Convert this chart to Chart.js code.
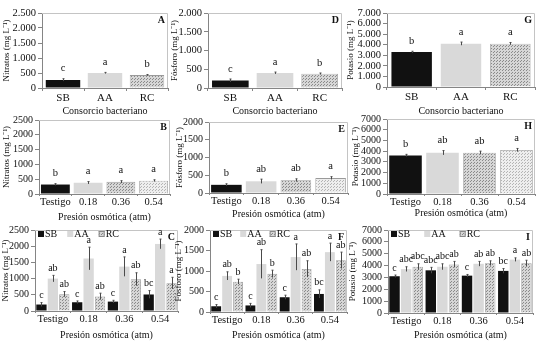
<!DOCTYPE html>
<html>
<head>
<meta charset="utf-8">
<script src="https://cdn.jsdelivr.net/npm/chart.js@4"></script>
<style>
  body { margin: 0; background: #fff; }
  #lienzo { position: relative; width: 550px; height: 343px; overflow: hidden; }
  #lienzo canvas { position: absolute; }
</style>
</head>
<body>
<div id="lienzo"></div>
<script>
// * categorias
const consorcios = ["SB", "AA", "RC"];
const presiones = ["Testigo", "0.18", "0.36", "0.54"];

// * A, D, G: consorcio bacteriano
const nitratosCons = [270, 500, 430];
const nitratosConsErr = [40, 20, 20];
const nitratosConsLetras = ["c", "a", "b"];
const fosforoCons = [200, 400, 380];
const fosforoConsErr = [40, 25, 20];
const fosforoConsLetras = ["c", "a", "b"];
const potasioCons = [3300, 4100, 4100];
const potasioConsErr = [80, 150, 110];
const potasioConsLetras = ["b", "a", "a"];

// * B, E, H: presion osmotica
const nitratosPres = [320, 380, 410, 450];
const nitratosPresErr = [30, 40, 40, 30];
const nitratosPresLetras = ["b", "a", "a", "a"];
const fosforoPres = [230, 330, 360, 420];
const fosforoPresErr = [30, 60, 40, 40];
const fosforoPresLetras = ["b", "ab", "ab", "a"];
const potasioPres = [3600, 3850, 3850, 4100];
const potasioPresErr = [100, 200, 150, 150];
const potasioPresLetras = ["b", "ab", "ab", "a"];

// * C: nitratos consorcio x presion
const nitratosSB = [200, 270, 290, 510];
const nitratosSBErr = [60, 40, 40, 120];
const nitratosSBLetras = ["c", "c", "c", "bc"];
const nitratosAA = [1000, 1620, 1370, 2070];
const nitratosAAErr = [100, 350, 300, 150];
const nitratosAALetras = ["ab", "a", "a", "a"];
const nitratosRC = [520, 450, 980, 860];
const nitratosRCErr = [80, 100, 200, 180];
const nitratosRCLetras = ["ab", "ab", "ab", "a"];

// * F: fosforo consorcio x presion
const fosforoSB = [140, 160, 360, 440];
const fosforoSBErr = [40, 50, 50, 100];
const fosforoSBLetras = ["c", "c", "c", "bc"];
const fosforoAA = [880, 1170, 1340, 1460];
const fosforoAAErr = [100, 350, 320, 220];
const fosforoAALetras = ["ab", "ab", "a", "a"];
const fosforoRC = [740, 930, 1050, 1260];
const fosforoRCErr = [60, 90, 200, 200];
const fosforoRCLetras = ["b", "b", "ab", "ab"];

// * I: potasio consorcio x presion
const potasioSB = [3100, 3600, 3150, 3550];
const potasioSBErr = [100, 250, 100, 200];
const potasioSBLetras = ["c", "abc", "c", "bc"];
const potasioAA = [3700, 3900, 4150, 4500];
const potasioAAErr = [200, 250, 200, 150];
const potasioAALetras = ["abc", "abc", "ab", "a"];
const potasioRC = [3900, 4100, 4200, 4200];
const potasioRCErr = [250, 250, 200, 250];
const potasioRCLetras = ["abc", "ab", "ab", "ab"];

const fuente = "'Liberation Serif', 'Times New Roman', serif";
const texto = "#111111";
const gris = "#858585";
const negro = "#111111";
const grisClaro = "#d9d9d9";

// ? patron de puntos para RC
function puntos(fondo, punto) {
  const c = document.createElement("canvas");
  c.width = 3;
  c.height = 3;
  const x = c.getContext("2d");
  x.fillStyle = fondo;
  x.fillRect(0, 0, 3, 3);
  x.fillStyle = punto;
  x.fillRect(0, 0, 1, 1);
  x.fillRect(2, 1, 1, 1);
  return x.createPattern(c, "repeat");
}
const puntosOscuro = puntos("#d6d6d6", "#8a8a8a");
const puntosClaro = puntos("#eeeeee", "#b4b4b4");

const miles = (v) => String(v).replace(/\B(?=(\d{3})+$)/g, ".");

// * barras, error y letras
const decoracion = {
  id: "decoracion",
  afterDatasetsDraw(chart, args, op) {
    const ctx = chart.ctx;
    const y = chart.scales.y;
    const area = chart.chartArea;
    ctx.save();
    ctx.strokeStyle = "#c4c4c4";
    ctx.lineWidth = 1;
    ctx.beginPath();
    ctx.moveTo(area.left, area.top + 0.5);
    ctx.lineTo(area.right - 0.5, area.top + 0.5);
    ctx.lineTo(area.right - 0.5, area.bottom);
    ctx.stroke();

    chart.data.datasets.forEach((ds, i) => {
      const meta = chart.getDatasetMeta(i);
      meta.data.forEach((bar, j) => {
        const v = ds.data[j];
        const e = ds.errores[j];
        const yArr = y.getPixelForValue(v + e);
        const yAb = y.getPixelForValue(v - e);
        const x = Math.round(bar.x) + 0.5;
        ctx.strokeStyle = "#4a4a4a";
        ctx.lineWidth = 1;
        ctx.beginPath();
        ctx.moveTo(x, yAb);
        ctx.lineTo(x, yArr);
        ctx.moveTo(x - 1, yArr);
        ctx.lineTo(x + 1, yArr);
        ctx.stroke();
        ctx.fillStyle = texto;
        ctx.font = op.letraTam + "px " + fuente;
        ctx.textAlign = "center";
        ctx.textBaseline = "bottom";
        ctx.fillText(ds.letras[j], bar.x, yArr - op.sep);
      });
    });

    ctx.fillStyle = texto;
    ctx.font = "bold 10px " + fuente;
    ctx.textAlign = "right";
    ctx.textBaseline = "middle";
    ctx.fillText(op.panel, area.right - 3, area.top + 7);

    if (op.leyenda) {
      let lx = area.left + 3;
      const ly = area.top + 4;
      ctx.font = "10px " + fuente;
      ctx.textAlign = "left";
      chart.data.datasets.forEach((ds) => {
        ctx.fillStyle = ds.backgroundColor;
        ctx.fillRect(lx, ly - 3, 6, 6);
        if (ds.borderWidth) {
          ctx.strokeStyle = "#8a8a8a";
          ctx.strokeRect(lx + 0.5, ly - 2.5, 5, 5);
        }
        ctx.fillStyle = texto;
        ctx.fillText(ds.label, lx + 7, ly + 0.5);
        lx += 7 + ctx.measureText(ds.label).width + op.hueco;
      });
    }
    ctx.restore();
  },
};
Chart.register(decoracion);

const lienzo = document.getElementById("lienzo");

function crearPanel(p) {
  const [cx, cy, cw, ch] = p.caja;
  const [l, t, r, b] = p.area;
  const cv = document.createElement("canvas");
  cv.width = cw;
  cv.height = ch;
  cv.style.left = cx + "px";
  cv.style.top = cy + "px";
  lienzo.appendChild(cv);
  return new Chart(cv, {
    type: "bar",
    data: { labels: p.etiquetas, datasets: p.series },
    options: {
      responsive: false,
      animation: false,
      datasets: { bar: { categoryPercentage: p.catPct, barPercentage: p.barPct } },
      layout: { padding: { left: 0, top: t - cy, right: cx + cw - r, bottom: 0 } },
      plugins: {
        legend: { display: false },
        tooltip: { enabled: false },
        decoracion: { panel: p.panel, leyenda: p.leyenda, sep: p.sep, letraTam: p.letraTam, hueco: p.hueco || 10 },
      },
      scales: {
        x: {
          grid: { drawOnChartArea: false, tickLength: p.marcaX, color: gris },
          border: { color: gris },
          ticks: { font: { family: fuente, size: p.tamX }, color: texto, padding: p.sepX, maxRotation: 0, autoSkip: false },
          title: {
            display: true,
            text: p.tituloX,
            font: { family: fuente, size: 10 },
            color: texto,
            padding: { top: 0, bottom: Math.max(0, cy + ch - p.tituloXy - 6) },
          },
          afterFit: (s) => { s.height = cy + ch - b; },
        },
        y: {
          min: 0,
          max: p.max,
          grid: { drawOnChartArea: false, tickLength: 4, color: gris },
          border: { color: gris },
          ticks: {
            stepSize: p.paso,
            autoSkip: false,
            font: { family: fuente, size: p.tamY },
            color: texto,
            padding: 2,
            callback: (v) => (p.miles ? miles(v) : String(v)),
          },
          title: {
            display: true,
            text: p.tituloY,
            font: { family: fuente, size: 9 },
            color: texto,
            padding: { top: Math.max(0, p.tituloYx - cx - 5.4), bottom: 0 },
          },
          afterFit: (s) => { s.width = l - cx; },
        },
      },
    },
  });
}

// * series por panel
const serieSimple = (datos, err, letras, colores) => [{
  label: "",
  data: datos,
  errores: err,
  letras: letras,
  backgroundColor: colores,
  borderColor: "#9a9a9a",
  borderWidth: colores.map((c) => (typeof c === "string" ? 0 : 0.8)),
}];
const coloresCons = [negro, grisClaro, puntosOscuro];
const coloresPres = [negro, grisClaro, puntosOscuro, puntosClaro];
const serieTriple = (sb, sbE, sbL, aa, aaE, aaL, rc, rcE, rcL) => [
  { label: "SB", data: sb, errores: sbE, letras: sbL, backgroundColor: negro, borderWidth: 0 },
  { label: "AA", data: aa, errores: aaE, letras: aaL, backgroundColor: grisClaro, borderWidth: 0 },
  { label: "RC", data: rc, errores: rcE, letras: rcL, backgroundColor: puntosOscuro, borderColor: "#9a9a9a", borderWidth: 0.8 },
];

const tNitratos = "Nitratos (mg L⁻¹)";
const tFosforo = "Fósforo (mg L⁻¹)";
const tPotasio = "Potasio (mg L⁻¹)";
const tConsorcio = "Consorcio bacteriano";
const tPresion = "Presión osmótica (atm)";

const fila1 = { etiquetas: consorcios, tituloX: tConsorcio, tituloXy: 111, catPct: 1, barPct: 0.82, tamX: 11, tamY: 10.5, marcaX: 3, sepX: 1, miles: true, sep: 5, letraTam: 10.5 };
const fila2 = { etiquetas: presiones, tituloX: tPresion, catPct: 1, barPct: 0.88, tamX: 10.5, tamY: 10, marcaX: 2, sepX: 0, miles: false, sep: 5, letraTam: 10.5 };
const fila3 = { etiquetas: presiones, tituloX: tPresion, tituloXy: 335, catPct: 0.96, barPct: 0.9, tamX: 10.5, tamY: 10, marcaX: 2, sepX: 0, miles: false, sep: 2, letraTam: 10, leyenda: true };

crearPanel({ ...fila1, panel: "A", caja: [0, 3, 172, 115], area: [42, 13, 168, 88], tituloY: tNitratos, tituloYx: 7, max: 2500, paso: 500,
  series: serieSimple(nitratosCons, nitratosConsErr, nitratosConsLetras, coloresCons) });
crearPanel({ ...fila1, panel: "D", caja: [168, 3, 178, 115], area: [208, 13, 342, 88], tituloY: tFosforo, tituloYx: 175, max: 2000, paso: 500,
  series: serieSimple(fosforoCons, fosforoConsErr, fosforoConsLetras, coloresCons) });
crearPanel({ ...fila1, panel: "G", caja: [344, 3, 206, 115], area: [387, 13, 535, 87], tituloY: tPotasio, tituloYx: 351, max: 7000, paso: 1000,
  series: serieSimple(potasioCons, potasioConsErr, potasioConsLetras, coloresCons) });

crearPanel({ ...fila2, panel: "B", caja: [0, 111, 174, 112], area: [39, 120, 170, 194], tituloY: tNitratos, tituloYx: 7, tituloXy: 217, max: 2500, paso: 500,
  series: serieSimple(nitratosPres, nitratosPresErr, nitratosPresLetras, coloresPres) });
crearPanel({ ...fila2, panel: "E", caja: [172, 111, 178, 112], area: [209, 122, 348, 193], tituloY: tFosforo, tituloYx: 180, tituloXy: 214, max: 2000, paso: 500,
  series: serieSimple(fosforoPres, fosforoPresErr, fosforoPresLetras, coloresPres) });
crearPanel({ ...fila2, panel: "H", caja: [348, 111, 202, 112], area: [387, 117, 535, 194], tituloY: tPotasio, tituloYx: 356, tituloXy: 213, max: 7000, paso: 1000,
  series: serieSimple(potasioPres, potasioPresErr, potasioPresLetras, coloresPres) });

crearPanel({ ...fila3, panel: "C", caja: [0, 221, 184, 122], area: [35, 230, 178, 311], tituloY: tNitratos, tituloYx: 6, max: 2500, paso: 500, hueco: 10,
  series: serieTriple(nitratosSB, nitratosSBErr, nitratosSBLetras, nitratosAA, nitratosAAErr, nitratosAALetras, nitratosRC, nitratosRCErr, nitratosRCLetras) });
crearPanel({ ...fila3, panel: "F", caja: [173, 221, 177, 122], area: [210, 230, 347, 312], tituloY: tFosforo, tituloYx: 179, max: 2000, paso: 500, hueco: 8,
  series: serieTriple(fosforoSB, fosforoSBErr, fosforoSBLetras, fosforoAA, fosforoAAErr, fosforoAALetras, fosforoRC, fosforoRCErr, fosforoRCLetras) });
crearPanel({ ...fila3, panel: "I", caja: [346, 221, 204, 122], area: [388, 230, 533, 313], tituloY: tPotasio, tituloYx: 353, max: 7000, paso: 1000, hueco: 14,
  series: serieTriple(potasioSB, potasioSBErr, potasioSBLetras, potasioAA, potasioAAErr, potasioAALetras, potasioRC, potasioRCErr, potasioRCLetras) });
</script>
</body>
</html>
